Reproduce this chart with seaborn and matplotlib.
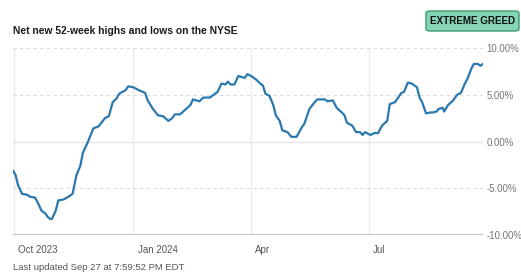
import matplotlib
matplotlib.use("Agg")
import matplotlib.pyplot as plt
import matplotlib.transforms as mtransforms
from matplotlib.patches import FancyBboxPatch
import seaborn as sns
import pandas as pd

# net new 52-week highs minus lows, % of NYSE issues
dates = ["2023-09-30", "2023-10-02", "2023-10-04", "2023-10-07", "2023-10-11", "2023-10-13",
         "2023-10-17", "2023-10-19", "2023-10-22", "2023-10-25", "2023-10-27", "2023-10-29",
         "2023-10-30", "2023-11-02", "2023-11-04", "2023-11-08", "2023-11-12", "2023-11-15",
         "2023-11-18", "2023-11-21", "2023-11-23", "2023-11-27", "2023-12-01", "2023-12-05",
         "2023-12-10", "2023-12-13", "2023-12-16", "2023-12-19", "2023-12-21", "2023-12-26",
         "2023-12-28", "2024-01-01", "2024-01-05", "2024-01-10", "2024-01-12", "2024-01-16",
         "2024-01-20", "2024-01-24", "2024-01-28", "2024-01-31", "2024-02-02", "2024-02-06",
         "2024-02-10", "2024-02-14", "2024-02-16", "2024-02-21", "2024-02-24", "2024-02-29",
         "2024-03-06", "2024-03-09", "2024-03-12", "2024-03-14", "2024-03-16", "2024-03-19",
         "2024-03-22", "2024-03-27", "2024-03-29", "2024-04-01", "2024-04-03", "2024-04-05",
         "2024-04-08", "2024-04-10", "2024-04-12", "2024-04-15", "2024-04-18", "2024-04-20",
         "2024-04-23", "2024-04-25", "2024-04-29", "2024-05-02", "2024-05-06", "2024-05-10",
         "2024-05-12", "2024-05-16", "2024-05-20", "2024-05-22", "2024-05-28", "2024-05-30",
         "2024-06-03", "2024-06-06", "2024-06-10", "2024-06-12", "2024-06-14", "2024-06-18",
         "2024-06-21", "2024-06-24", "2024-06-26", "2024-06-28", "2024-07-02", "2024-07-05",
         "2024-07-08", "2024-07-11", "2024-07-15", "2024-07-17", "2024-07-21", "2024-07-23",
         "2024-07-26", "2024-07-28", "2024-07-31", "2024-08-03", "2024-08-07", "2024-08-09",
         "2024-08-11", "2024-08-14", "2024-08-17", "2024-08-19", "2024-08-22", "2024-08-24",
         "2024-08-27", "2024-08-28", "2024-08-31", "2024-09-04", "2024-09-07", "2024-09-10",
         "2024-09-13", "2024-09-15", "2024-09-18", "2024-09-20", "2024-09-23", "2024-09-25",
         "2024-09-27"]
values = [-3.1, -3.6, -4.7, -5.6, -5.7, -5.9,
          -6.0, -6.5, -7.4, -7.7, -8.1, -8.3,
          -8.3, -7.4, -6.3, -6.2, -5.9, -5.6,
          -3.6, -2.6, -1.2, 0.0, 1.4, 1.6,
          2.5, 2.7, 4.2, 4.6, 5.1, 5.5,
          5.9, 5.8, 5.5, 5.2, 4.4, 3.5,
          2.8, 2.7, 2.2, 2.5, 2.9, 2.9,
          3.4, 3.9, 4.5, 4.3, 4.7, 4.7,
          5.3, 6.2, 6.1, 6.4, 6.1, 6.1,
          7.0, 6.8, 7.2, 7.0, 6.8, 6.6,
          6.2, 6.0, 5.1, 4.9, 3.9, 2.8,
          2.2, 1.2, 1.0, 0.5, 0.5, 1.5,
          1.9, 3.5, 4.2, 4.5, 4.5, 4.3,
          4.4, 3.6, 3.1, 2.8, 2.0, 1.7,
          1.0, 1.0, 0.7, 1.0, 0.7, 0.9,
          0.9, 1.7, 2.2, 4.0, 4.2, 4.6,
          5.2, 5.3, 6.3, 6.2, 5.8, 4.7,
          4.2, 3.0, 3.1, 3.1, 3.2, 3.5,
          3.6, 3.2, 3.9, 4.4, 5.0, 5.2,
          6.2, 6.7, 7.8, 8.3, 8.3, 8.1,
          8.3]

tick_dates = ["2023-10-01", "2024-01-01", "2024-04-01", "2024-07-01"]
tick_labels = ["Oct 2023", "Jan 2024", "Apr", "Jul"]
y_ticks = [-10, -5, 0, 5, 10]

title = "Net new 52-week highs and lows on the NYSE"
badge = "EXTREME GREED"
footer = "Last updated Sep 27 at 7:59:52 PM EDT"

df = pd.DataFrame({"date": pd.to_datetime(dates), "value": values})

sns.set_style("white")
plt.rcParams["font.family"] = ["Liberation Sans", "DejaVu Sans"]

fig = plt.figure(figsize=(5.21, 2.73), dpi=100)
ax = fig.add_axes([13 / 521, (273 - 235) / 273, (483 - 13) / 521, (235 - 48) / 273])

# horizontal grid
for yv in y_ticks:
    if yv == -10:
        ax.axhline(yv, color="#c4c4c4", lw=2.2, zorder=1)
    elif yv == 0:
        ax.axhline(yv, color="#e6e6e6", lw=1.0, zorder=1)
    else:
        ax.axhline(yv, color="#dcdcdc", lw=0.8, ls=(0, (3, 3)), zorder=1)

sns.lineplot(data=df, x="date", y="value", ax=ax, color="#2a78ad", lw=1.6, zorder=3)

ax.set_xlim(pd.Timestamp("2023-09-30"), pd.Timestamp("2024-09-27"))
ax.set_ylim(-10, 10)
ax.set_xlabel("")
ax.set_ylabel("")
for s in ax.spines.values():
    s.set_visible(False)

# vertical grid + ticks that run below the axis
ax.set_xticks(pd.to_datetime(tick_dates))
ax.set_xticklabels(tick_labels, ha="left")
ax.grid(axis="x", color="#ebebeb", lw=1.0)
ax.tick_params(axis="x", length=14, width=1.0, color="#ebebeb", pad=-7,
               labelsize=7, labelcolor="#555555")
offset = mtransforms.ScaledTranslation(3 / 72, 0, fig.dpi_scale_trans)
for lab in ax.get_xticklabels():
    lab.set_transform(lab.get_transform() + offset)

ax.yaxis.tick_right()
ax.set_yticks(y_ticks)
ax.set_yticklabels([f"{v:.2f}%" for v in y_ticks])
ax.tick_params(axis="y", length=0, pad=2.5, labelsize=6.9, labelcolor="#777777")

fig.text(13 / 521, 1 - 31 / 273, title, fontsize=7.4, fontweight="bold",
         color="#1a1a1a", va="center", ha="left")
fig.text(13 / 521, 1 - 268 / 273, footer, fontsize=6.8, color="#555555",
         va="center", ha="left")

box = FancyBboxPatch((426 / 521, 1 - 31 / 273), 93 / 521, 20 / 273,
                     boxstyle="round,pad=0,rounding_size=0.008",
                     transform=fig.transFigure, facecolor="#84d4b5",
                     edgecolor="#3f9a72", lw=1.0)
fig.patches.append(box)
fig.text(472.5 / 521, 1 - 21 / 273, badge, fontsize=7.1, fontweight="bold",
         color="#111111", va="center", ha="center")

plt.savefig("out.png", dpi=100)
